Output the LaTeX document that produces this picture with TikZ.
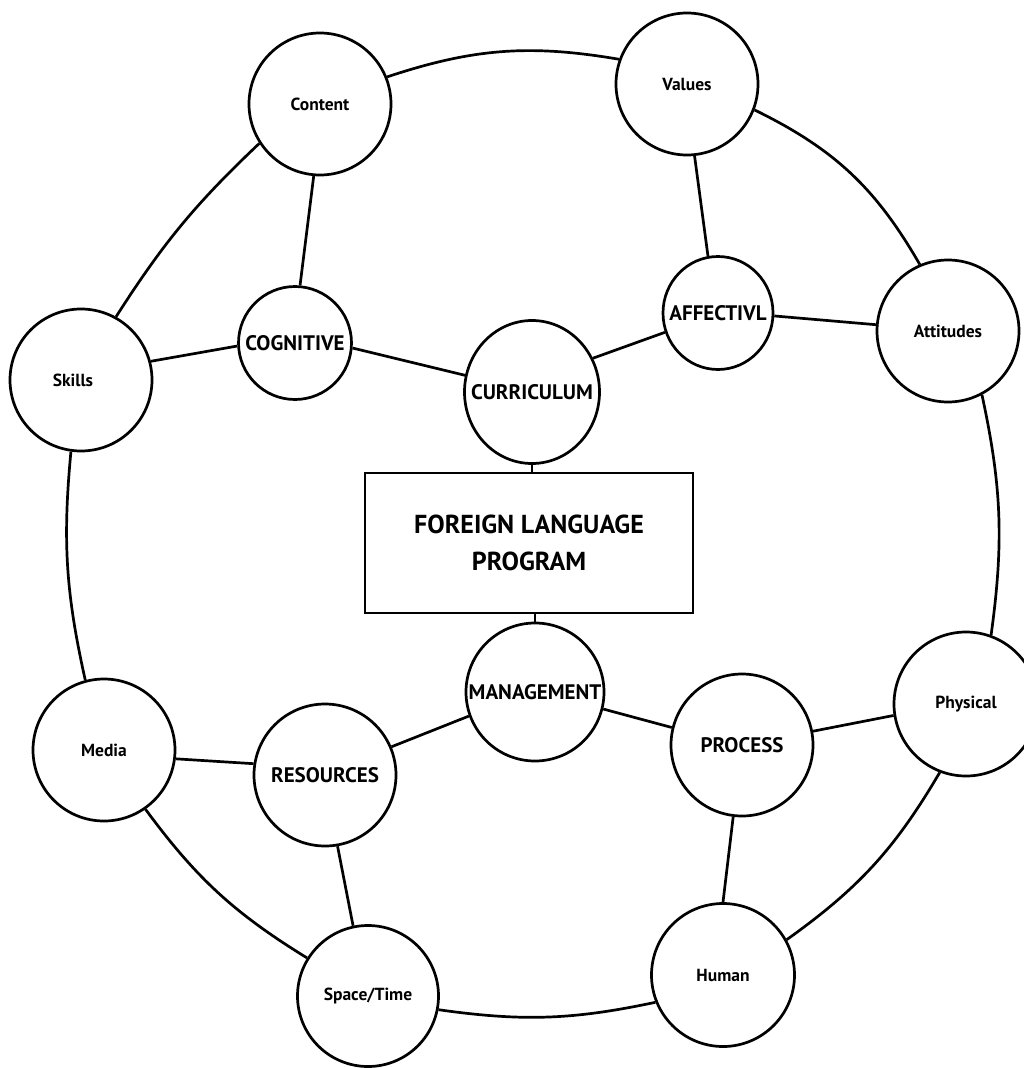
\documentclass[tikz,border=0pt]{standalone}
\usepackage{fontspec}
\setmainfont{PT Sans}
\usetikzlibrary{shapes.geometric}
\begin{document}
\begin{tikzpicture}[x=1pt,y=1pt,line width=2.7pt,
  bub/.style={circle,draw,inner sep=0pt,minimum size=#1},
  oval/.style 2 args={ellipse,draw,inner sep=0pt,minimum width=#1,minimum height=#2},
  small/.style={font=\fontsize{17.5}{20}\selectfont\bfseries,inner sep=0pt},
  caps/.style={font=\fontsize{21}{24}\selectfont\bfseries,inner sep=0pt},
  boxtext/.style={font=\fontsize{26}{37}\selectfont\bfseries}]
\useasboundingbox (0,0) rectangle (1024,-1068);
% outer ring nodes
\node[bub=142pt,label={[small]center:Content}] (content) at (320,-104) {};
\node[bub=142pt,label={[small]center:Values}] (values) at (687,-84) {};
\node[bub=142pt,label={[small]center:Attitudes}] (attitudes) at (948,-331) {};
\node[bub=144pt,label={[small]center:Physical}] (physical) at (966,-704) {};
\node[bub=143pt,label={[small]center:Human}] (human) at (723,-975) {};
\node[bub=141pt,label={[small]center:Space/Time}] (spacetime) at (368,-996) {};
\node[bub=142pt,label={[small]center:Media}] (media) at (104,-750) {};
\node[bub=142pt,label={[small,xshift=-8pt]center:Skills}] (skills) at (81,-380) {};
% inner nodes
\node[bub=113pt,label={[caps]center:COGNITIVE}] (cognitive) at (295,-343) {};
\node[oval={135pt}{143pt},label={[caps]center:CURRICULUM}] (curriculum) at (532,-392) {};
\node[oval={110pt}{113pt},label={[caps]center:AFFECTIVL}] (affective) at (718,-313) {};
\node[bub=138pt,label={[caps]center:MANAGEMENT}] (management) at (535,-692) {};
\node[bub=142pt,label={[caps]center:PROCESS}] (process) at (742,-745) {};
\node[bub=142pt,label={[caps]center:RESOURCES}] (resources) at (325,-775) {};
\node[draw,rectangle,minimum width=328pt,minimum height=140pt,align=center,boxtext] (program) at (529,-543) {FOREIGN LANGUAGE\\PROGRAM};
% outer ring connectors
\draw (content.22) to[bend left=14] (values.160);
\draw (values.339) to[bend left=17] (attitudes.113);
\draw (attitudes.298) to[bend left=10] (physical.70);
\draw (physical.249) to[bend left=12] (human.29);
\draw (human.202) to[bend left=10] (spacetime.349);
\draw (spacetime.148) to[bend left=11] (media.305);
\draw (media.105) to[bend left=9] (skills.262);
\draw (skills.61) to[bend left=7] (content.213);
% inner connectors
\draw (content.265) -- (cognitive.85);
\draw (skills.15) -- (cognitive.183);
\draw (cognitive.-5) -- (curriculum.166);
\draw (curriculum.29) -- (affective.200);
\draw (affective.100) -- (values.276);
\draw (affective.-3) -- (attitudes.175);
\draw (curriculum.south) -- (curriculum.south |- program.north);
\draw (management.north |- program.south) -- (management.north);
\draw (management.-14) -- (process.166);
\draw (management.200) -- (resources.23);
\draw (resources.171) -- (media.353);
\draw (resources.280) -- (spacetime.102);
\draw (process.11) -- (physical.189);
\draw (process.263) -- (human.90);
\end{tikzpicture}
\end{document}
